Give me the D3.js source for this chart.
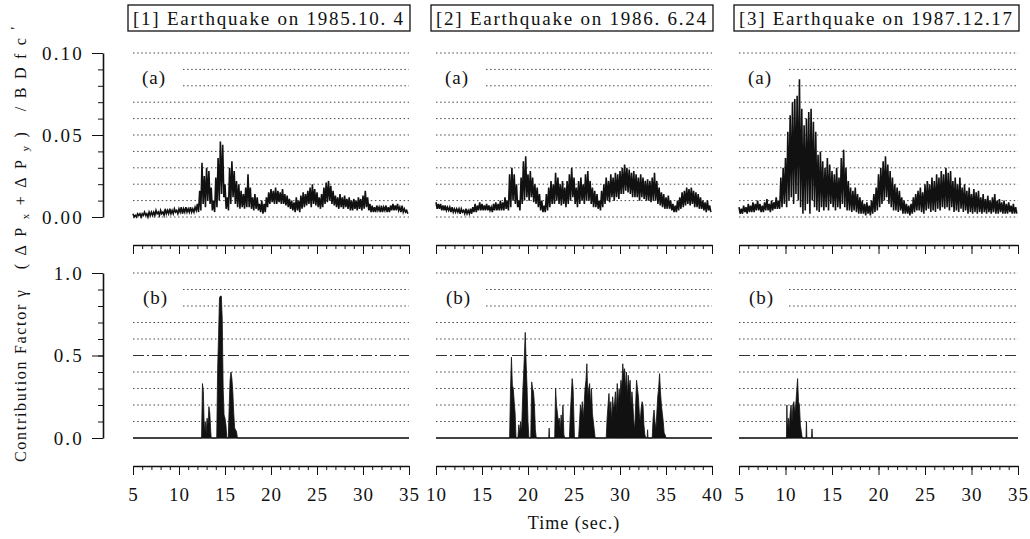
<!DOCTYPE html>
<html>
<head>
<meta charset="utf-8">
<script src="https://cdn.jsdelivr.net/npm/d3@7"></script>
<style>
  body { margin: 0; background: #fff; }
  svg { display: block; }
  text { font-family: "Liberation Serif", "DejaVu Serif", serif; fill: #111; }
</style>
</head>
<body>
<div id="chart"></div>
<script>
const titles = ["[1] Earthquake on 1985.10. 4", "[2] Earthquake on 1986. 6.24", "[3] Earthquake on 1987.12.17"];
const timeDomains = [[5, 35], [10, 40], [5, 35]];
const ratioTicks = [0, 0.05, 0.10];
const gammaTicks = [0, 0.5, 1.0];

// (a) traces: max and min of each 0.25 s bin, in units of 0.001
const binStep = 0.25;
const hiA1 = [2,1,2,2, 2,3,2,3, 3,3,4,3, 4,3,5,4, 5,4,5,4, 5,6,5,6, 5,6,5,6, 8,16,33,25, 30,28,18,10, 24,36,46,44,
  20,12,30,34, 28,22,20,16, 14,18,26,18, 12,14,12,8, 10,8,12,15, 17,16,18,16, 15,17,14,13, 11,10,9,12, 10,13,15,14,
  16,18,20,17, 15,12,14,18, 21,22,19,16, 13,12,14,12, 13,11,12,10, 11,10,12,11, 13,16,12,8, 7,6,7,6, 7,6,7,6, 7,8,7,8, 6,7,5,4];
const loA1 = [0,0,1,0, 1,1,0,1, 1,1,2,1, 2,1,2,2, 2,2,3,2, 3,2,3,3, 3,3,3,4, 3,4,8,6, 10,8,4,3, 6,10,14,12,
  5,4,8,12, 8,6,5,6, 5,6,6,5, 4,5,4,3, 2,3,6,8, 9,8,8,9, 8,8,7,6, 5,4,3,4, 3,5,6,7,
  8,6,8,7, 6,5,6,8, 9,10,8,7, 6,5,6,5, 6,5,4,4, 5,4,5,4, 5,6,4,3, 3,3,4,3, 3,4,3,3, 4,4,4,4, 3,3,3,2];
const hiA2 = [9,8,8,7, 7,6,6,6, 5,5,5,5, 4,5,4,5, 6,8,7,9, 8,7,8,7, 6,8,9,8, 10,9,12,10, 26,30,26,20, 10,24,34,37,
  26,28,24,20, 18,14,10,7, 14,18,22,20, 27,24,20,22, 18,22,26,30, 24,18,22,24, 20,26,28,22, 18,16,14,10,
  16,20,24,22, 26,24,27,26, 28,30,32,30, 29,27,28,26, 24,26,24,22, 23,22,24,27, 22,18,15,14, 12,13,10,8,
  7,10,12,15, 16,18,17,18, 16,15,14,12, 10,9,10,7];
const loA2 = [5,5,4,4, 4,4,3,3, 3,3,2,3, 2,2,2,2, 3,3,4,4, 4,4,4,4, 3,4,4,4, 4,4,5,4, 6,10,8,6, 4,8,10,12,
  10,12,9,8, 6,4,3,3, 4,6,8,8, 10,8,7,8, 6,8,10,12, 8,6,8,10, 8,10,10,8, 6,6,5,4,
  6,8,10,9, 12,10,12,11, 14,14,16,15, 14,12,12,12, 10,12,11,10, 10,9,10,10, 8,7,6,5, 5,5,4,3,
  3,4,5,6, 7,8,7,8, 6,6,5,5, 4,3,4,3];
const hiA3 = [6,5,7,6, 8,7,9,8, 10,8,7,9, 11,8,10,9, 12,10,24,30, 36,52,62,70, 72,74,84,66, 56,60,64,66, 58,52,38,40,
  34,30,36,32, 28,26,30,24, 36,41,30,22, 18,16,18,14, 12,10,8,9, 7,10,14,18, 26,30,34,37, 32,28,24,20,
  18,16,12,10, 8,7,8,12, 14,16,18,15, 20,22,20,24, 22,26,24,28, 26,30,27,28, 22,24,20,24, 18,20,16,18,
  14,17,15,16, 12,14,11,13, 10,12,14,10, 11,9,10,8, 9,7,8,6];
const loA3 = [2,2,3,2, 3,3,3,4, 4,3,3,4, 4,3,4,5, 5,5,6,8, 6,10,12,8, 14,10,6,2, 4,8,2,10, 6,4,3,6,
  4,6,4,8, 6,4,6,5, 8,6,4,4, 3,4,3,2, 2,2,1,2, 1,2,3,4, 6,8,10,12, 8,6,4,4,
  3,4,2,2, 2,1,2,3, 4,4,3,2, 4,5,3,4, 3,5,4,6, 5,6,4,6, 3,4,3,5, 3,4,2,3,
  2,3,2,3, 2,3,2,3, 2,3,2,2, 3,2,2,2, 3,2,2,2];

// (b) contribution factor gamma: [time, value]
const gamma1 = [[5,0],[12.45,0],[12.55,0.33],[12.65,0.28],[12.75,0.04],[12.85,0.1],[12.95,0.03],[13.05,0.12],[13.15,0.08],
  [13.25,0.19],[13.35,0.15],[13.45,0.04],[13.5,0],[14.1,0],[14.2,0.42],[14.3,0.62],[14.4,0.85],[14.5,0.86],[14.6,0.86],
  [14.7,0.72],[14.8,0.3],[14.9,0.14],[15.0,0.12],[15.1,0.08],[15.2,0],[15.35,0],[15.45,0.18],[15.55,0.35],[15.65,0.4],
  [15.75,0.36],[15.85,0.28],[15.95,0.15],[16.05,0.06],[16.15,0.05],[16.25,0.04],[16.35,0],[35,0]];
const gamma2 = [[10,0],[18.0,0],[18.1,0.3],[18.2,0.49],[18.3,0.32],[18.4,0.3],[18.5,0.22],[18.6,0.15],[18.7,0],[18.9,0],
  [19.0,0.08],[19.1,0.03],[19.2,0.1],[19.3,0.04],[19.45,0.3],[19.55,0.42],[19.7,0.64],[19.8,0.45],[19.9,0.3],[20.0,0.1],
  [20.1,0],[20.3,0],[20.4,0.34],[20.5,0.3],[20.6,0.28],[20.7,0.2],[20.8,0.05],[20.9,0],
  [22.25,0],[22.3,0.06],[22.35,0],
  [22.9,0],[23.0,0.3],[23.1,0.2],[23.2,0.15],[23.3,0.1],[23.4,0.12],[23.5,0.05],[23.6,0.14],[23.7,0.08],[23.8,0.2],[23.9,0.02],[24.0,0],
  [24.5,0],[24.6,0.15],[24.7,0.25],[24.8,0.36],[24.9,0.3],[25.0,0.1],[25.05,0],
  [25.5,0],[25.6,0.1],[25.7,0.2],[25.8,0.15],[25.9,0.22],[26.0,0.12],[26.1,0.2],[26.2,0.3],[26.3,0.35],[26.4,0.45],
  [26.5,0.25],[26.6,0.3],[26.7,0.33],[26.8,0.2],[26.9,0.3],[27.0,0.15],[27.1,0.1],[27.2,0.05],[27.3,0],
  [28.5,0],[28.6,0.12],[28.7,0.2],[28.8,0.27],[28.9,0.15],[29.0,0.22],[29.1,0.1],[29.2,0.25],[29.3,0.18],[29.4,0.2],
  [29.5,0.28],[29.6,0.15],[29.7,0.33],[29.8,0.2],[29.9,0.3],[30.0,0.25],[30.1,0.35],[30.2,0.3],[30.3,0.45],[30.4,0.38],
  [30.5,0.42],[30.6,0.3],[30.7,0.4],[30.8,0.25],[30.9,0.38],[31.0,0.3],[31.1,0.35],[31.2,0.2],[31.3,0.28],[31.4,0.2],
  [31.5,0.1],[31.6,0.05],[31.7,0.2],[31.8,0.35],[31.9,0.3],[32.0,0.25],[32.1,0.15],[32.2,0.1],[32.3,0.18],[32.4,0.22],
  [32.5,0.2],[32.6,0.08],[32.7,0.02],[32.8,0],
  [32.95,0],[33.0,0.05],[33.05,0],
  [33.5,0],[33.6,0.12],[33.7,0.17],[33.8,0.1],[33.9,0.05],[34.0,0.15],[34.1,0.25],[34.2,0.3],[34.3,0.39],[34.4,0.28],
  [34.5,0.2],[34.6,0.15],[34.7,0.1],[34.8,0.03],[34.9,0.02],[35.0,0],[40,0]];
const gamma3 = [[5,0],[10.1,0],[10.15,0.2],[10.2,0.05],[10.3,0.12],[10.4,0.05],[10.5,0.15],[10.6,0.2],[10.7,0.1],
  [10.8,0.2],[10.9,0.22],[11.0,0.15],[11.1,0.2],[11.2,0.28],[11.3,0.36],[11.4,0.22],[11.5,0.2],[11.6,0.08],[11.7,0.04],
  [11.8,0],[12.2,0],[12.25,0.1],[12.3,0],[12.8,0],[12.85,0.055],[12.9,0],[35,0]];

const hiA = [hiA1, hiA2, hiA3];
const loA = [loA1, loA2, loA3];
const gammas = [gamma1, gamma2, gamma3];

const W = 1030, H = 539;
const panelX = [[133, 409], [436, 712], [739, 1018]];
const yA = d3.scaleLinear().domain([0, 0.1]).range([217, 53]);
const yB = d3.scaleLinear().domain([0, 1]).range([438, 273]);
const axisMidY = 245, axisBotY = 466;

const svg = d3.select("#chart").append("svg").attr("width", W).attr("height", H);

function styleAxis(g) {
  g.selectAll("path, line").attr("stroke", "#111");
  g.selectAll("text").attr("font-family", "Liberation Serif").attr("font-size", 19)
    .attr("letter-spacing", 1).attr("fill", "#111");
}

function timeAxis(x, y, labelled) {
  const [t0, t1] = x.domain();
  const g = svg.append("g").attr("transform", `translate(0,${y})`);
  g.append("g")
    .call(d3.axisBottom(x).tickValues(d3.range(t0, t1 + 0.5, 1)).tickSize(4).tickSizeOuter(0).tickFormat(""))
    .call(a => a.select(".domain").attr("stroke-width", 1.6));
  g.append("g")
    .call(d3.axisBottom(x).tickValues(d3.range(t0, t1 + 0.5, 5)).tickSize(9).tickPadding(13)
      .tickFormat(labelled ? d3.format("d") : ""))
    .call(a => a.select(".domain").remove());
  styleAxis(g);
}

function gridLines(g, y, x0, x1, values, kind) {
  values.forEach((v, k) => {
    const start = (k === 8 || k === 9) ? x0 + 50 : x0;
    const line = g.append("line").attr("x1", start).attr("x2", x1)
      .attr("y1", y(v)).attr("y2", y(v)).attr("stroke", "#333");
    if (kind === "b" && k === 0) line.attr("stroke-width", 1.2);
    else if (kind === "b" && k === 5) line.attr("stroke-width", 1).attr("stroke-dasharray", "11,3,2,3");
    else line.attr("stroke-width", 0.9).attr("stroke-dasharray", "1.5,2.6");
  });
}

titles.forEach((title, i) => {
  const [x0, x1] = panelX[i];
  const x = d3.scaleLinear().domain(timeDomains[i]).range([x0, x1]);
  const g = svg.append("g");

  // title box
  g.append("rect").attr("x", x0 - 5).attr("y", 5).attr("width", x1 - x0 + 6).attr("height", 26)
    .attr("fill", "none").attr("stroke", "#111").attr("stroke-width", 1.3);
  g.append("text").attr("x", x0).attr("y", 25).attr("font-size", 19)
    .attr("textLength", x1 - x0 - 6).attr("lengthAdjust", "spacing").text(title);

  // (a) ratio trace
  gridLines(g, yA, x0, x1, d3.range(0, 11).map(k => k / 100), "a");
  const t0 = timeDomains[i][0];
  const pts = [];
  hiA[i].forEach((h, j) => {
    pts.push([t0 + j * binStep, h / 1000]);
    pts.push([t0 + (j + 0.5) * binStep, loA[i][j] / 1000]);
  });
  g.append("path").datum(pts)
    .attr("d", d3.line().x(d => x(d[0])).y(d => yA(d[1])))
    .attr("fill", "none").attr("stroke", "#111").attr("stroke-width", 1.6);
  g.append("text").attr("x", x0 + 9).attr("y", yA(0.085) + 6).attr("font-size", 19).attr("letter-spacing", 1).text("(a)");

  // (b) gamma spikes
  gridLines(g, yB, x0, x1, d3.range(0, 11).map(k => k / 10), "b");
  g.append("path").datum(gammas[i])
    .attr("d", d3.area().x(d => x(d[0])).y0(yB(0)).y1(d => yB(d[1])))
    .attr("fill", "#111").attr("stroke", "#111").attr("stroke-width", 0.8);
  g.append("text").attr("x", x0 + 10).attr("y", yB(0.85) + 6).attr("font-size", 19).attr("letter-spacing", 1).text("(b)");

  timeAxis(x, axisMidY, false);
  timeAxis(x, axisBotY, true);
});

// y axes (left panel only)
function valueAxis(y, ticks, fmt, step) {
  const g = svg.append("g").attr("transform", "translate(103,0)");
  const [d0, d1] = y.domain();
  g.append("g").call(d3.axisLeft(y).tickValues(d3.range(d0, d1 + step / 2, step)).tickSize(5).tickSizeOuter(0).tickFormat(""))
    .call(a => a.select(".domain").attr("stroke-width", 1.6));
  g.append("g").call(d3.axisLeft(y).tickValues(ticks).tickSize(11).tickPadding(8).tickFormat(d3.format(fmt)))
    .call(a => a.select(".domain").remove());
  styleAxis(g);
  g.selectAll("text").attr("letter-spacing", 2.2);
}
valueAxis(yA, ratioTicks, ".2f", 0.01);
valueAxis(yB, gammaTicks, ".1f", 0.1);

// y label
const yl = svg.append("text").attr("transform", "translate(26,462) rotate(-90)").attr("font-size", 16);
yl.append("tspan").attr("letter-spacing", 1.7).text("Contribution Factor ");
const parts = [["γ (ΔP", 0, 16], ["x", 3, 11], ["+ΔP", -3, 16], ["y", 3, 11], [") /BDfc", -3, 16], ["'", -5, 14]];
parts.forEach(([s, dy, fs]) => yl.append("tspan").attr("dy", dy).attr("font-size", fs).attr("letter-spacing", 8.5).text(s));

svg.append("text").attr("x", 574).attr("y", 529).attr("text-anchor", "middle")
  .attr("font-size", 18).attr("letter-spacing", 1).text("Time (sec.)");
</script>
</body>
</html>
